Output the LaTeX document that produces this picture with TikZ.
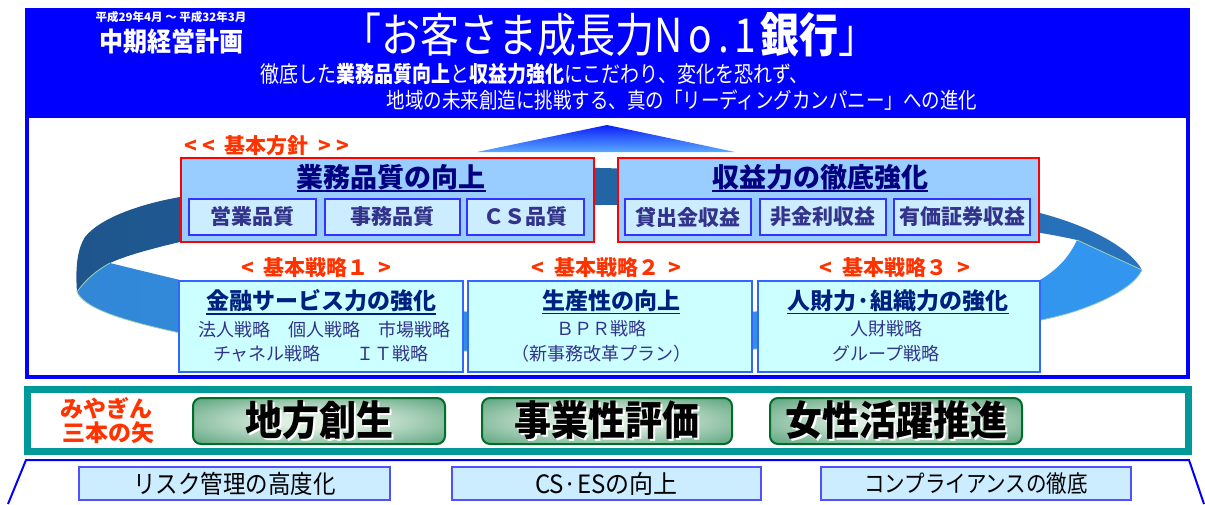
\documentclass[tikz,border=0pt]{standalone}
\usepackage{fontspec}
\setmainfont{Noto Sans CJK JP}
\usetikzlibrary{calc}
\definecolor{banner}{RGB}{0,0,255}
\definecolor{rbfill}{RGB}{153,204,255}
\definecolor{subfill}{RGB}{204,236,255}
\definecolor{subedge}{RGB}{51,51,255}
\definecolor{stratfill}{RGB}{204,255,255}
\definecolor{stratedge}{RGB}{51,102,255}
\definecolor{navy}{RGB}{0,0,128}
\definecolor{snavy}{RGB}{0,32,128}
\definecolor{itemc}{RGB}{51,51,140}
\definecolor{labred}{RGB}{255,51,0}
\definecolor{tealc}{RGB}{0,153,153}
\definecolor{gedge}{RGB}{0,110,40}
\definecolor{ginner}{RGB}{222,238,226}
\definecolor{gouter}{RGB}{40,135,85}
\definecolor{bedge}{RGB}{80,80,255}
\definecolor{rbackL}{RGB}{30,85,140}
\definecolor{rbackR}{RGB}{40,115,190}
\definecolor{rfrontL}{RGB}{50,135,215}
\definecolor{rfrontM}{RGB}{30,95,160}
\definecolor{rfrontR}{RGB}{50,150,240}
\definecolor{redge}{RGB}{160,210,170}
\definecolor{triTop}{RGB}{10,30,250}
\definecolor{triBot}{RGB}{90,170,255}
\newcommand\jfs[1]{\fontsize{#1}{#1}\selectfont}
\newcommand\tall[2]{\scalebox{1}[#1]{#2}}
\pgfdeclareradialshading{gboxshade}{\pgfpoint{0bp}{0bp}}{color(0bp)=(ginner); color(8bp)=(ginner); color(46bp)=(gouter); color(72bp)=(gouter)}
\tikzset{
  redbox/.style={draw=red, line width=2.5pt, fill=rbfill, minimum height=84pt},
  subbox/.style={draw=subedge, line width=1.5pt, fill=subfill, minimum height=36pt, text=itemc, font=\jfs{21}\bfseries},
  rtitle/.style={text=navy, font=\jfs{27}\bfseries},
  ultitle/.style={navy, line width=2pt},
  stratbox/.style={draw=stratedge, line width=2.5pt, fill=stratfill, minimum height=91pt},
  stitle/.style={text=snavy, font=\jfs{23}\bfseries},
  ulstrat/.style={snavy, line width=1.8pt},
  itemtext/.style={text=itemc, font=\jfs{18}},
  lab/.style={text=labred, font=\jfs{21}\bfseries},
  gbox/.style={draw=gedge, line width=2pt, rounded corners=8pt, shading=gboxshade, minimum height=46pt},
  gtext/.style={text=black, font=\jfs{37}\bfseries},
  gshadow/.style={text=white, font=\jfs{37}\bfseries},
  botbox/.style={draw=bedge, line width=1.2pt, fill=subfill, minimum height=33pt},
  bantext/.style={text=white},
}
\begin{document}
\begin{tikzpicture}[x=1pt,y=-1pt]
\tikzset{every node/.style={inner sep=0pt,outer sep=0pt}}
\path[use as bounding box] (0,0) rectangle (1205,504);
% banner and frame
\fill[banner] (25,8) rectangle (1190,118);
\draw[banner,line width=4pt] (27,116) -- (27,377) -- (1188,377) -- (1188,116);
% ribbon back
\shade[left color=rbackL, right color=rbackR]
 (77,292) .. controls (75,265) and (78,248) .. (85,237)
 .. controls (100,218) and (140,204) .. (180,197)
 .. controls (330,172) and (480,166) .. (600,168)
 .. controls (800,172) and (980,198) .. (1040,213)
 .. controls (1090,226) and (1130,248) .. (1142,270)
 -- (1077,240)
 .. controls (1000,222) and (800,204) .. (600,205)
 .. controls (400,206) and (240,228) .. (180,242)
 .. controls (150,249) and (125,256) .. (110,263)
 -- cycle;
% ribbon front
\shade[left color=rfrontL, middle color=rfrontM, right color=rfrontR]
 (77,292) .. controls (85,280) and (97,270) .. (110,263)
 .. controls (130,268) and (155,274) .. (180,280)
 .. controls (300,300) and (450,315) .. (600,316)
 .. controls (800,315) and (980,295) .. (1040,280)
 .. controls (1060,268) and (1070,255) .. (1077,240)
 -- (1142,270)
 .. controls (1135,285) and (1110,300) .. (1073,312)
 .. controls (1000,335) and (800,352) .. (600,353)
 .. controls (400,352) and (230,343) .. (180,333)
 .. controls (130,322) and (85,310) .. (77,292) -- cycle;
\draw[redge, line width=0.8pt] (1077,240) -- (1142,270)
 .. controls (1135,285) and (1110,300) .. (1073,312)
 .. controls (1000,335) and (800,352) .. (600,353)
 .. controls (400,352) and (230,343) .. (180,333)
 .. controls (130,322) and (85,310) .. (77,292)
 .. controls (85,280) and (97,270) .. (110,263);
% triangle
\shade[top color=triTop, bottom color=triBot] (477,152) -- (607,125) -- (735,152) -- cycle;
% banner texts
\node[bantext, font=\jfs{11.5}\bfseries] (period) at (171,17) {平成29年4月 ～ 平成32年3月};
\node[bantext, font=\jfs{24}\bfseries] (plan) at (171,41) {\tall{1.1}{中期経営計画}};
\node[bantext, font=\jfs{39}] (slogan) at (610,35) {\tall{1.2}{「お客さま成長力N\hspace{6pt}o\hspace{6pt}.\hspace{6pt}1\hspace{4pt}\textbf{銀行}」}};
\node[bantext, font=\jfs{19}] (line2) at (534.5,74) {\tall{1.18}{徹底した\textbf{業務品質向上}と\textbf{収益力強化}にこだわり、変化を恐れず、}};
\node[bantext, font=\jfs{18.5}] (line3) at (682,100) {\tall{1.18}{地域の未来創造に挑戦する、真の「リーディングカンパニー」への進化}};
% basic policy
\node[lab] (pol) at (267,146) {<\hspace{5pt}<\hspace{10pt}基本方針\hspace{10pt}>\hspace{5pt}>};
\node[redbox, minimum width=413pt] (rb1) at (387.5,200) {};
\node[redbox, minimum width=421pt] (rb2) at (828.5,200) {};
\node[rtitle] (rt1) at (391,177) {業務品質の向上};
\draw[ultitle] ($(rt1.south west)+(0,1.5)$) -- ($(rt1.south east)+(0,1.5)$);
\node[rtitle] (rt2) at (820,177) {収益力の徹底強化};
\draw[ultitle] ($(rt2.south west)+(0,1.5)$) -- ($(rt2.south east)+(0,1.5)$);
\node[subbox, minimum width=127pt] (s1) at (252.5,217) {営業品質};
\node[subbox, minimum width=135pt] (s2) at (392.5,217) {事務品質};
\node[subbox, minimum width=117pt] (s3) at (525.5,217) {ＣＳ品質};
\node[subbox, minimum width=126pt] (s4) at (688,217) {貸出金収益};
\node[subbox, minimum width=126pt] (s5) at (823,217) {非金利収益};
\node[subbox, minimum width=136pt] (s6) at (962,217) {有価証券収益};
% strategies
\node[lab] (l1) at (316.5,268) {<\hspace{10pt}基本戦略１\hspace{10pt}>};
\node[lab] (l2) at (606.5,268) {<\hspace{10pt}基本戦略２\hspace{10pt}>};
\node[lab] (l3) at (894.5,268) {<\hspace{10pt}基本戦略３\hspace{10pt}>};
\node[stratbox, minimum width=284pt] (b1) at (321,326.5) {};
\node[stratbox, minimum width=284pt] (b2) at (610,326.5) {};
\node[stratbox, minimum width=282pt] (b3) at (899,326.5) {};
\node[stitle] (st1) at (321,301) {金融サービス力の強化};
\draw[ulstrat] ($(st1.south west)+(0,1.5)$) -- ($(st1.south east)+(0,1.5)$);
\node[stitle] (st2) at (611,301) {生産性の向上};
\draw[ulstrat] ($(st2.south west)+(0,1.5)$) -- ($(st2.south east)+(0,1.5)$);
\node[stitle] (st3) at (898,301) {人財力·組織力の強化};
\draw[ulstrat] ($(st3.south west)+(0,1.5)$) -- ($(st3.south east)+(0,1.5)$);
\node[itemtext] (i1a) at (324,330) {法人戦略　個人戦略　市場戦略};
\node[itemtext] (i1b) at (321,354) {チャネル戦略　　ＩＴ戦略};
\node[itemtext] (i2a) at (601,329) {ＢＰＲ戦略};
\node[itemtext] (i2b) at (601,354) {（新事務改革プラン）};
\node[itemtext] (i3a) at (886,329) {人財戦略};
\node[itemtext] (i3b) at (886,354) {グループ戦略};
% three arrows
\draw[tealc, line width=7pt] (27.5,389) rectangle (1188.5,451.5);
\node[text=labred, font=\jfs{23}\bfseries] (mi1) at (106,408) {みやぎん};
\node[text=labred, font=\jfs{23}\bfseries] (mi2) at (108,433) {三本の矢};
\node[gbox, minimum width=252pt] (g1) at (319,421) {};
\node[gbox, minimum width=250pt] (g2) at (607,421) {};
\node[gbox, minimum width=252pt] (g3) at (896,421) {};
\node[gshadow] (g1s) at (321,422.5) {\tall{1.1}{地方創生}};
\node[gtext] (g1t) at (319,420.5) {\tall{1.1}{地方創生}};
\node[gshadow] (g2s) at (609,422.5) {\tall{1.1}{事業性評価}};
\node[gtext] (g2t) at (607,420.5) {\tall{1.1}{事業性評価}};
\node[gshadow] (g3s) at (898,422.5) {\tall{1.1}{女性活躍推進}};
\node[gtext] (g3t) at (896,420.5) {\tall{1.1}{女性活躍推進}};
% base
\draw[banner, line width=2pt] (8,504) -- (26,460) -- (1189,460) -- (1204,504);
\node[botbox, minimum width=311pt, font=\jfs{22.5}] (f1) at (234.5,483.5) {\tall{1.12}{リスク管理の高度化}};
\node[botbox, minimum width=309pt, font=\jfs{24}] (f2) at (606.5,483.5) {\tall{1.05}{CS·ESの向上}};
\node[botbox, minimum width=310pt, font=\jfs{20.5}] (f3) at (976,483.5) {\tall{1.15}{コンプライアンスの徹底}};
\end{tikzpicture}
\end{document}
